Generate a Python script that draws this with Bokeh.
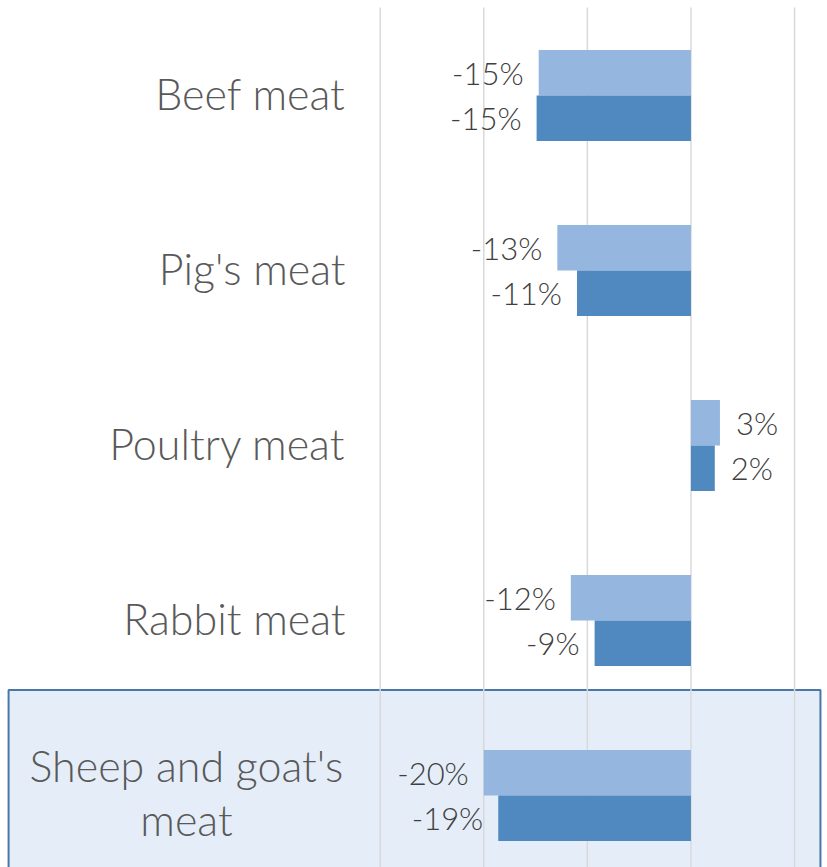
from bokeh.plotting import figure
from bokeh.models import Range1d, ColumnDataSource
from bokeh.core.properties import value
from bokeh.embed import file_html
from bokeh.resources import INLINE

# ---- data ----
categories = ["Beef meat", "Pig's meat", "Poultry meat", "Rabbit meat", "Sheep and goat's\nmeat"]
series_a = [-14.7, -12.9, 2.8, -11.6, -20.0]   # light blue
series_b = [-14.9, -11.0, 2.3, -9.3, -18.6]    # dark blue
grid_ticks = [-30, -20, -10, 0, 10]
highlight_index = 4

FONT = "Lato Light"
LIGHT = "#95B7DF"
DARK = "#4F89BF"

idx = list(range(len(categories)))
bar_h = 0.26

p = figure(width=827, height=867, output_backend="svg", toolbar_location=None,
           x_range=Range1d(-66.65, 13.18), y_range=Range1d(4.4114, -0.5429),
           x_axis_location=None, y_axis_location=None, min_border=0)
p.grid.visible = False
p.outline_line_color = None
p.background_fill_color = "white"

# highlight box for the selected category
p.quad(left=[-65.87], right=[12.5], top=[highlight_index - 0.603], bottom=[highlight_index + 0.8],
       fill_color="#E5EEF8", line_color="#4A76A8", line_width=2)

# gridlines
p.segment(x0=grid_ticks, x1=grid_ticks, y0=[-0.503] * len(grid_ticks), y1=[4.6] * len(grid_ticks),
          line_color="#D9D9D9", line_width=1.5)

# bars
ya = [i - bar_h / 2 for i in idx]
yb = [i + bar_h / 2 for i in idx]
p.hbar(y=ya, left=0, right=series_a, height=bar_h, fill_color=LIGHT, line_color=None)
p.hbar(y=yb, left=0, right=series_b, height=bar_h, fill_color=DARK, line_color=None)

# data labels
def lab(v):
    return f"{round(v):d}%"

neg = dict(x=[], y=[], t=[])
pos = dict(x=[], y=[], t=[])
for ys, vals in ((ya, series_a), (yb, series_b)):
    for y, v in zip(ys, vals):
        d = neg if v < 0 else pos
        d["x"].append(v); d["y"].append(y); d["t"].append(lab(v))

p.text(x="x", y="y", text="t", source=ColumnDataSource(neg), text_align="right",
       text_baseline="middle", x_offset=-15, text_font=value(FONT), text_font_size="31px",
       text_color="#404040")
p.text(x="x", y="y", text="t", source=ColumnDataSource(pos), text_align="left",
       text_baseline="middle", x_offset=16, text_font=value(FONT), text_font_size="31px",
       text_color="#404040")

# category labels
single = [(i, c) for i, c in zip(idx, categories) if "\n" not in c]
multi = [(i, c) for i, c in zip(idx, categories) if "\n" in c]
p.text(x=[-33.35] * len(single), y=[i for i, _ in single], text=[c for _, c in single],
       text_align="right", text_baseline="middle", y_offset=-2, text_font=value(FONT),
       text_font_size="43px", text_color="#595959")
p.text(x=[-48.7] * len(multi), y=[i for i, _ in multi], text=[c for _, c in multi],
       text_align="center", text_baseline="middle", y_offset=-3, text_font=value(FONT),
       text_font_size="43px", text_color="#595959", text_line_height=1.05)

open("out.html", "w").write(file_html(p, INLINE))
